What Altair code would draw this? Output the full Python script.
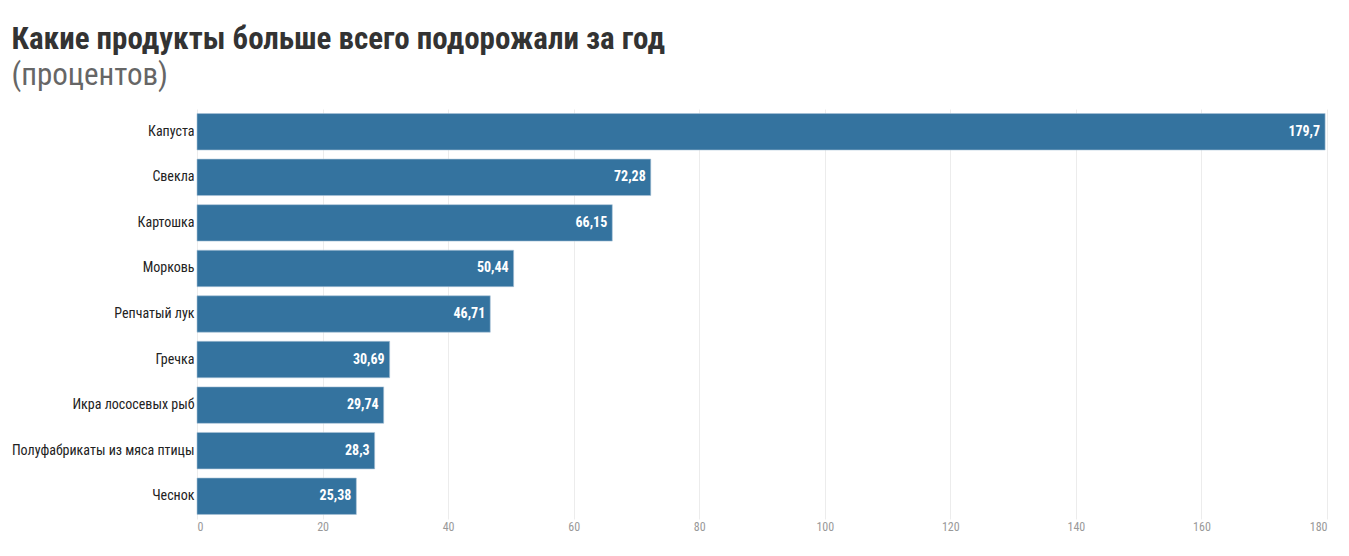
import altair as alt
import pandas as pd

products = ["Капуста", "Свекла", "Картошка", "Морковь", "Репчатый лук", "Гречка",
            "Икра лососевых рыб", "Полуфабрикаты из мяса птицы", "Чеснок"]
values = [179.7, 72.28, 66.15, 50.44, 46.71, 30.69, 29.74, 28.3, 25.38]
labels = ["179,7", "72,28", "66,15", "50,44", "46,71", "30,69", "29,74", "28,3", "25,38"]

df = pd.DataFrame({"product": products, "value": values, "label": labels})

FONT = "Roboto Condensed, Liberation Sans Narrow, DejaVu Sans Condensed, Roboto"

y_axis = alt.Axis(labelFont=FONT, labelFontSize=14, labelColor="#222", labelLimit=400,
                  domain=False, ticks=False, labelPadding=3, grid=False)
x_axis = alt.Axis(values=[0, 20, 40, 60, 80, 100, 120, 140, 160, 180],
                  labelFont=FONT, labelFontSize=12, labelColor="#999",
                  domain=False, ticks=False, labelPadding=2,
                  grid=True, gridColor="#ececec", gridWidth=1)
x_scale = alt.Scale(domain=[0, 180], nice=False)
y_scale = alt.Scale(paddingInner=0.2, paddingOuter=0.1)

bars = alt.Chart(df).mark_bar(color="#34739f", stroke="#a9c3d6", strokeWidth=0.6).encode(
    x=alt.X("value:Q", title=None, scale=x_scale, axis=x_axis),
    y=alt.Y("product:N", sort=products, title=None, scale=y_scale, axis=y_axis))

text = alt.Chart(df).mark_text(align="right", baseline="middle", dx=-5,
                               color="white", font=FONT, fontSize=14,
                               fontWeight="bold").encode(
    x=alt.X("value:Q", title=None, scale=x_scale, axis=x_axis),
    y=alt.Y("product:N", sort=products, title=None, scale=y_scale, axis=y_axis),
    text="label:N")

chart = (bars + text).properties(
    width=1130, height=410,
    background="white",
    title=alt.TitleParams(
        text="Какие продукты больше всего подорожали за год",
        subtitle="(процентов)",
        anchor="start", frame="bounds",
        font=FONT, fontSize=31, fontWeight="bold", color="#333",
        subtitleFont=FONT, subtitleFontSize=31, subtitleColor="#666",
        subtitleFontWeight="normal", subtitlePadding=5, offset=17, dx=0),
    padding={"left": 3, "top": 16, "right": 10, "bottom": 5},
).configure_view(stroke="transparent", strokeWidth=0)

chart.save("out.html", embed_options={"renderer": "svg", "actions": False})
